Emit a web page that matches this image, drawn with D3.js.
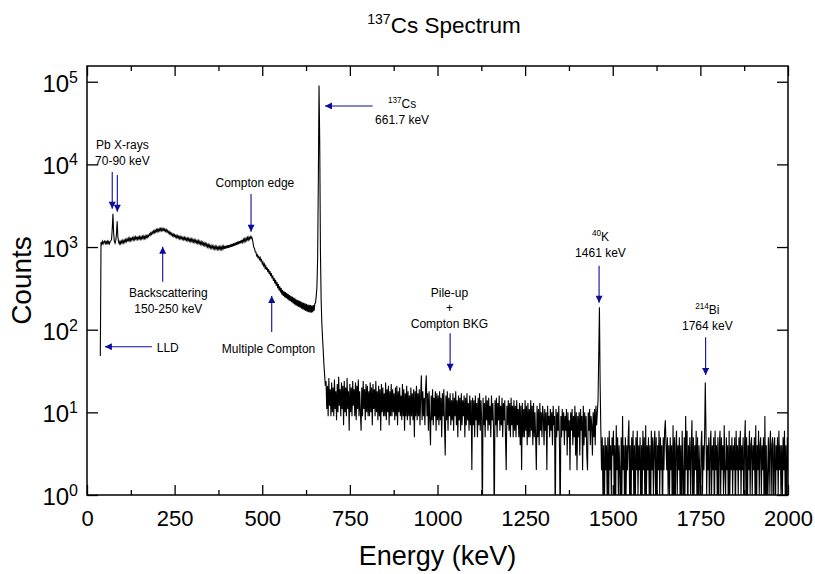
<!DOCTYPE html>
<html><head><meta charset="utf-8">
<script src="https://cdn.jsdelivr.net/npm/d3@7"></script>
<style>
body{margin:0;background:#fff}
svg{display:block;background:#fff}
text{font-family:"Liberation Sans",Arial,sans-serif;fill:#000}
</style>
</head><body>
<svg id="chart" width="815" height="574"></svg>
<script>
// ---- channel calibration ----
const energyStart = 38;   // keV of first channel shown
const binWidth = 2;       // keV per channel

// counts, 38 .. 680 keV
const countsLow = [
 48,1140,1090,1175,1095,1160,1180,1100,1165,1105,
 1178,1100,1168,1098,1160,1190,1230,1650,2520,1480,
 1170,1110,1195,1420,2050,1340,1160,1095,1175,1100,
 1185,1115,1200,1125,1215,1140,1230,1160,1255,1170,
 1272,1190,1285,1200,1300,1210,1298,1220,1318,1228,
 1325,1235,1335,1240,1318,1245,1340,1245,1332,1255,
 1350,1262,1352,1268,1360,1275,1368,1305,1390,1340,
 1440,1385,1485,1425,1525,1455,1565,1488,1595,1515,
 1625,1535,1640,1555,1660,1565,1672,1575,1680,1585,
 1665,1575,1655,1550,1625,1520,1585,1478,1540,1440,
 1500,1398,1462,1368,1435,1340,1410,1318,1388,1298,
 1372,1282,1355,1265,1340,1255,1325,1240,1312,1228,
 1305,1218,1292,1205,1282,1192,1270,1182,1262,1170,
 1250,1160,1238,1150,1225,1138,1212,1125,1200,1112,
 1188,1098,1170,1082,1155,1068,1140,1052,1122,1040,
 1105,1022,1090,1005,1072,990,1058,978,1045,968,
 1032,958,1025,950,1018,945,1012,940,1008,938,
 1005,935,1010,940,1015,945,1022,950,1030,958,
 1040,968,1052,978,1065,990,1078,1002,1092,1015,
 1108,1030,1125,1048,1142,1065,1160,1082,1180,1100,
 1198,1118,1218,1138,1238,1158,1258,1178,1280,1200,
 1300,1220,1318,1242,1335,1272,1325,1235,1110,985,
 960,870,870,785,805,745,770,710,745,680,
 700,625,655,592,622,560,590,530,565,498,
 540,470,512,445,482,418,452,390,422,362,
 400,340,378,318,356,298,335,282,318,266,
 302,256,292,248,285,240,278,234,270,226,
 262,222,256,215,250,208,244,202,238,196,
 232,192,228,188,224,184,220,180,215,176,
 212,172,208,168,205,165,202,163,200,162,
 198,160,196,163,198,170,205,212,255,330,
 720,6200,90000,18000,900,230,120,80,55,38,
 28,21
];

// counts, 682 .. 2000 keV
const countsTail = [
 24,11,21,9,26,12,19,9,23,10,
 20,9,25,11,18,8,22,10,27,12,
 19,9,23,11,21,7,24,10,20,9,
 26,11,18,6,22,10,20,9,24,12,
 19,9,23,8,21,11,25,9,18,10,
 6,20,9,24,11,19,8,22,10,21,
 9,18,9,23,10,20,7,22,11,19,
 9,24,10,18,8,21,9,19,6,22,
 10,20,9,17,9,23,8,19,10,21,
 7,18,9,22,9,19,10,17,8,20,
 9,21,7,18,10,20,9,16,8,22,
 9,19,6,17,9,21,8,18,9,16,
 7,20,9,17,8,19,5,18,9,21,
 8,17,9,19,7,16,28,8,18,9,
 15,7,19,28,9,17,6,18,8,4,
 16,8,19,7,15,9,18,6,17,8,
 16,7,18,8,15,5,17,9,19,7,
 3,16,8,18,6,15,9,17,7,14,
 8,17,6,15,9,18,7,14,5,16,
 8,15,6,17,7,14,9,16,5,15,
 7,17,8,13,6,16,7,14,2,15,
 7,14,5,16,8,13,5,15,7,17,
 6,14,8,0,15,7,13,5,16,8,
 14,6,15,7,12,5,16,8,13,6,
 0,14,7,15,5,13,8,16,6,12,
 7,15,5,13,8,14,5,2,12,7,
 14,6,13,5,15,7,12,5,14,6,
 12,5,14,7,11,5,13,4,12,2,
 13,5,11,5,14,6,12,4,13,5,
 11,5,14,6,12,4,13,5,10,5,
 2,12,5,11,4,13,6,10,5,12,
 9,4,11,6,10,2,12,7,9,5,
 11,6,10,4,12,7,9,0,11,5,
 10,6,12,4,0,9,5,11,6,10,
 4,9,6,11,3,10,5,8,2,10,
 6,11,4,9,5,12,3,10,2,9,
 5,10,3,11,6,9,2,12,4,10,
 5,9,3,2,10,6,11,4,9,7,
 3,10,5,11,4,12,7,10,14,48,
 187,22,6,2,5,1,4,0,5,2,
 4,1,5,0,6,2,4,1,5,3,
 6,1,4,0,7,2,5,1,4,2,
 0,5,1,9,2,4,0,5,1,4,
 2,5,8,1,4,0,5,2,6,1,
 4,0,5,2,6,1,4,2,5,0,
 4,1,6,2,5,0,7,1,4,2,
 5,1,4,0,6,2,5,1,4,6,
 1,5,0,4,2,6,1,5,2,4,
 0,5,2,6,8,4,2,5,1,4,
 1,5,2,4,0,7,1,5,0,4,
 6,1,4,2,5,1,4,0,6,2,
 0,5,1,9,2,6,0,4,2,5,
 1,4,8,0,5,1,4,2,6,1,
 5,0,4,2,0,4,6,1,4,2,
 5,23,6,1,4,2,5,0,4,6,
 1,4,2,5,0,6,2,4,1,5,
 0,4,6,1,5,2,4,1,7,2,
 1,5,2,4,0,6,1,4,2,5,
 1,4,2,5,0,6,2,4,1,5,
 2,6,1,4,2,5,0,4,8,1,
 5,0,4,2,6,1,4,5,1,4,
 2,5,1,7,0,4,2,6,1,4,
 5,1,4,2,5,0,9,1,4,0,
 2,5,1,4,6,1,4,5,0,4,
 5,0,4,2,5,1,6,2,4,1,
 4,1,5,2,6,1,4,0,5,2
];

// ---- axes ----
const xDomain = [0, 2000];
const yDomain = [1, 155000];
const xTicks = [0,250,500,750,1000,1250,1500,1750,2000];
const xMinorTicks = [125,375,625,875,1125,1375,1625,1875];
const yTicks = [1,10,100,1000,10000,100000];

// ---- annotations (energy keV, counts) ----
const labelLines = [
 ["Pb X-rays","70-90 keV"],
 ["Compton edge"],
 ["Backscattering","150-250 keV"],
 ["LLD"],
 ["Multiple Compton"],
 ["^{137}Cs","661.7 keV"],
 ["Pile-up","+","Compton BKG"],
 ["^{40}K","1461 keV"],
 ["^{214}Bi","1764 keV"]
];
const labelEnergy = [101, 479, 232, 199, 518, 899, 1034, 1465, 1770];
const labelCounts = [15360, 5330, 249, 53.7, 52.3, 48100, 249, 1183, 155];
const labelAnchor = ["middle","middle","middle","start","middle","middle","middle","middle","middle"];

const arrowFromE = [72, 86.5, 468, 216, 185, 527, 815, 1036, 1461, 1765];
const arrowFromC = [8100, 7450, 4385, 381, 62.3, 93.8, 50900, 90.4, 595, 80.9];
const arrowToE   = [72, 86.5, 468, 216, 51, 527, 679, 1036, 1461, 1765];
const arrowToC   = [2900, 2680, 1534, 1010, 62.3, 256, 50900, 31.9, 212, 28.3];

// ---- drawing ----
const W = 815, H = 574;
const margin = {left: 87, right: 27, top: 66, bottom: 79};
const svg = d3.select("#chart");
const x = d3.scaleLinear().domain(xDomain).range([margin.left, W - margin.right]);
const y = d3.scaleLog().domain(yDomain).range([H - margin.bottom, margin.top]);

const spectrum = countsLow.concat(countsTail).map((c, i) => ({e: energyStart + i * binWidth, c}));

svg.append("defs").append("clipPath").attr("id","plotclip")
  .append("rect").attr("x", x(xDomain[0])).attr("y", y(yDomain[1]))
  .attr("width", x(xDomain[1]) - x(xDomain[0])).attr("height", y(yDomain[0]) - y(yDomain[1]));

const line = d3.line().x(d => x(d.e)).y(d => y(Math.max(d.c, 0.4)));
svg.append("path").datum(spectrum)
  .attr("clip-path","url(#plotclip)")
  .attr("fill","none").attr("stroke","#000").attr("stroke-width",1.1)
  .attr("stroke-linejoin","miter")
  .attr("d", line);

// axes
const tickStyle = g => { g.select(".domain").remove(); g.selectAll(".tick line").attr("stroke","#000").attr("stroke-width",1.3); };
const y0 = y(yDomain[0]), y1 = y(yDomain[1]), x0 = x(xDomain[0]), x1 = x(xDomain[1]);

const gxB = svg.append("g").attr("transform",`translate(0,${y0})`)
  .call(d3.axisBottom(x).tickValues(xTicks).tickSizeInner(-10).tickSizeOuter(0).tickPadding(15).tickFormat(d3.format("d")));
gxB.call(tickStyle);
gxB.selectAll(".tick text").attr("font-size",22).attr("font-family","'Liberation Sans',Arial,sans-serif").attr("fill","#000");
svg.append("g").attr("transform",`translate(0,${y0})`)
  .call(d3.axisBottom(x).tickValues(xMinorTicks).tickSizeInner(-5).tickSizeOuter(0).tickFormat(""))
  .call(tickStyle);
svg.append("g").attr("transform",`translate(0,${y1})`)
  .call(d3.axisTop(x).tickValues(xTicks).tickSizeInner(-10).tickSizeOuter(0).tickFormat(""))
  .call(tickStyle);
svg.append("g").attr("transform",`translate(0,${y1})`)
  .call(d3.axisTop(x).tickValues(xMinorTicks).tickSizeInner(-5).tickSizeOuter(0).tickFormat(""))
  .call(tickStyle);

const gyL = svg.append("g").attr("transform",`translate(${x0},0)`)
  .call(d3.axisLeft(y).tickValues(yTicks).tickSizeInner(-11).tickSizeOuter(0).tickPadding(9).tickFormat(""));
gyL.call(tickStyle);
gyL.selectAll(".tick text").attr("font-size",24).attr("dy","0.4em")
  .attr("font-family","'Liberation Sans',Arial,sans-serif").attr("fill","#000")
  .each(function(d){
    const t = d3.select(this);
    t.append("tspan").text("10");
    t.append("tspan").attr("font-size",16).attr("dy",-9).text(Math.round(Math.log10(d)));
  });
svg.append("g").attr("transform",`translate(${x1},0)`)
  .call(d3.axisRight(y).tickValues(yTicks).tickSizeInner(-11).tickSizeOuter(0).tickFormat(""))
  .call(tickStyle);

// frame
svg.append("rect").attr("x",x0).attr("y",y1).attr("width",x1-x0).attr("height",y0-y1)
  .attr("fill","none").attr("stroke","#000").attr("stroke-width",1.5);

// axis titles
svg.append("text").attr("x",(x0+x1)/2).attr("y",565).attr("text-anchor","middle")
  .attr("font-size",27).text("Energy (keV)");
svg.append("text").attr("transform",`translate(31,${(y0+y1)/2}) rotate(-90)`)
  .attr("text-anchor","middle").attr("font-size",28).text("Counts");

// title
const title = svg.append("text").attr("x",444).attr("y",33).attr("text-anchor","middle").attr("font-size",22.5);
title.append("tspan").attr("font-size",14).attr("dy",-9).text("137");
title.append("tspan").attr("dy",9).text("Cs Spectrum");

// annotation helpers
function richText(sel, str, size) {
  const parts = str.split(/(\^\{[^}]*\})/).filter(s => s.length);
  let raised = false;
  parts.forEach(p => {
    const m = p.match(/^\^\{([^}]*)\}$/);
    if (m) {
      sel.append("tspan").attr("font-size", size * 0.68).attr("dy", -5).text(m[1]);
      raised = true;
    } else {
      sel.append("tspan").attr("font-size", size).attr("dy", raised ? 5 : 0).text(p);
      raised = false;
    }
  });
}
const navy = "#0c0c9c";
svg.select("defs").append("marker").attr("id","ahead")
  .attr("viewBox","0 0 10 10").attr("refX",10).attr("refY",5)
  .attr("markerWidth",9).attr("markerHeight",7).attr("markerUnits","userSpaceOnUse")
  .attr("orient","auto")
  .append("path").attr("d","M0,0 L10,5 L0,10 Z").attr("fill",navy);

arrowFromE.forEach((e, i) => {
  svg.append("line")
    .attr("x1", x(e)).attr("y1", y(arrowFromC[i]))
    .attr("x2", x(arrowToE[i])).attr("y2", y(arrowToC[i]))
    .attr("stroke", navy).attr("stroke-width", 1.1)
    .attr("marker-end","url(#ahead)");
});

labelLines.forEach((lines, i) => {
  lines.forEach((ln, j) => {
    const t = svg.append("text")
      .attr("x", x(labelEnergy[i]))
      .attr("y", y(labelCounts[i]) + j * (lines.length === 3 ? 15.5 : 16))
      .attr("text-anchor", labelAnchor[i])
      .attr("fill", "#111");
    richText(t, ln, 12);
  });
});
</script>
</body></html>
